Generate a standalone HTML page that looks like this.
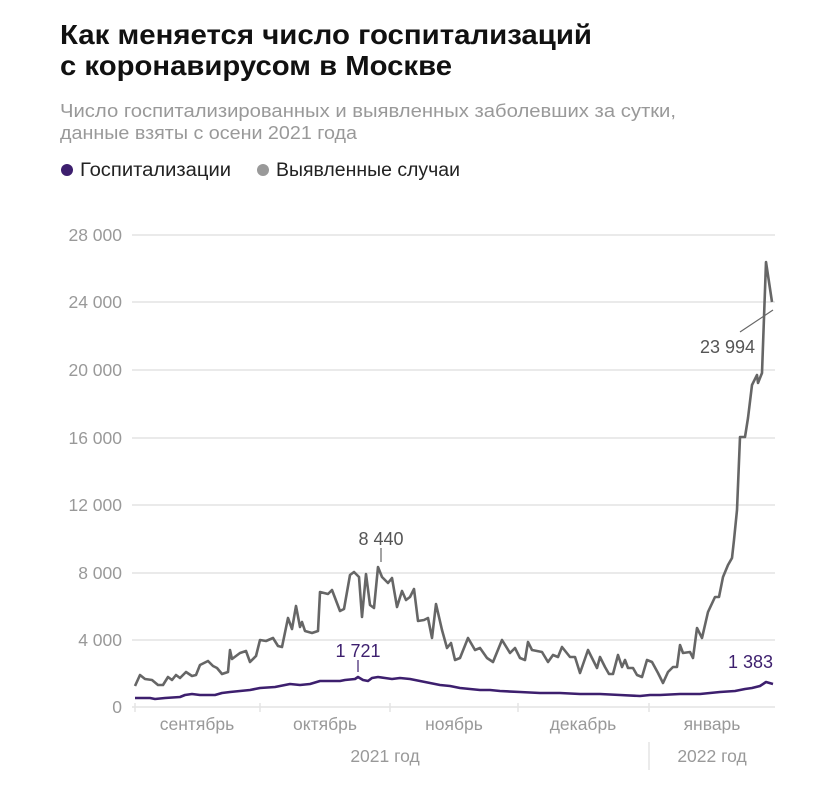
<!DOCTYPE html><html><head><meta charset="utf-8"><style>
body{margin:0;background:#fff;width:828px;height:780px;overflow:hidden;font-family:"Liberation Sans",sans-serif}
</style></head><body>
<svg width="828" height="780" xmlns="http://www.w3.org/2000/svg" font-family="Liberation Sans, sans-serif">
<text x="60" y="44" font-size="28" font-weight="bold" fill="#111" textLength="532" lengthAdjust="spacingAndGlyphs">Как меняется число госпитализаций</text>
<text x="60" y="75" font-size="28" font-weight="bold" fill="#111" textLength="392" lengthAdjust="spacingAndGlyphs">с коронавирусом в Москве</text>
<text x="60" y="117" font-size="18" fill="#999" textLength="616" lengthAdjust="spacingAndGlyphs">Число госпитализированных и выявленных заболевших за сутки,</text>
<text x="60" y="139" font-size="18" fill="#999" textLength="297" lengthAdjust="spacingAndGlyphs">данные взяты с осени 2021 года</text>
<circle cx="67" cy="170" r="6" fill="#3d1f6e"/><text x="80" y="176" font-size="19" fill="#222" textLength="151" lengthAdjust="spacingAndGlyphs">Госпитализации</text>
<circle cx="263" cy="170" r="6" fill="#999"/><text x="276" y="176" font-size="19" fill="#222" textLength="184" lengthAdjust="spacingAndGlyphs">Выявленные случаи</text>
<g stroke="#e4e4e4" stroke-width="1.5">
<line x1="132" x2="775" y1="235" y2="235"/><line x1="132" x2="775" y1="302" y2="302"/><line x1="132" x2="775" y1="370" y2="370"/><line x1="132" x2="775" y1="438" y2="438"/><line x1="132" x2="775" y1="505" y2="505"/><line x1="132" x2="775" y1="573" y2="573"/><line x1="132" x2="775" y1="640" y2="640"/><line x1="132" x2="775" y1="707" y2="707"/>
<line x1="135" x2="135" y1="703" y2="712"/><line x1="260" x2="260" y1="703" y2="712"/><line x1="390" x2="390" y1="703" y2="712"/><line x1="518" x2="518" y1="703" y2="712"/><line x1="649" x2="649" y1="703" y2="712"/><line x1="649" x2="649" y1="742" y2="770"/>
</g>
<g font-size="17.5" fill="#999" text-anchor="end">
<text x="122" y="241">28 000</text><text x="122" y="308">24 000</text><text x="122" y="376">20 000</text><text x="122" y="444">16 000</text><text x="122" y="511">12 000</text><text x="122" y="579">8 000</text><text x="122" y="646">4 000</text><text x="122" y="713">0</text>
</g>
<g font-size="17.5" fill="#999" text-anchor="middle">
<text x="197" y="730">сентябрь</text><text x="325" y="730">октябрь</text><text x="454" y="730">ноябрь</text><text x="583" y="730">декабрь</text><text x="712" y="730">январь</text>
<text x="385" y="762">2021 год</text><text x="712" y="762">2022 год</text>
</g>
<polyline fill="none" stroke="#666" stroke-width="2.6" stroke-linejoin="round" points="135,686 140,675 145,679 152,680 158,685 163,685 168,677 172,680 176,675 180,678 186,672 192,676 196,675 200,665 208,661 213,666 217,668 222,674 228,672 230,650 232,659 240,653 246,651 250,662 256,656 260,640 266,641 273,638 278,646 282,647 288,618 292,629 296,606 300,627 302,622 305,631 312,633 318,631 320,592 328,594 332,590 340,611 344,609 350,575 354,572 359,577 362,617 366,574 370,605 374,608 378,567 382,577 388,583 392,578 397,607 402,591 406,600 410,597 414,589 418,621 424,620 428,618 432,638 436,604 442,630 447,648 451,643 455,660 460,658 468,638 475,650 480,648 487,658 493,662 502,640 510,653 515,648 520,658 525,660 528,642 532,650 542,652 548,662 553,655 558,657 562,647 570,657 575,657 580,673 588,650 597,668 600,657 605,667 609,674 613,674 618,655 622,667 625,660 628,668 633,668 637,675 642,677 647,660 652,662 658,673 663,683 668,672 673,667 677,667 680,645 683,653 690,652 693,658 697,628 702,638 708,612 715,597 719,597 723,577 728,565 732,558 734,540 737,510 740,437 745,437 748,418 752,385 757,375 758,383 762,373 766,262 772,302"/>
<polyline fill="none" stroke="#3d1f6e" stroke-width="2.6" stroke-linejoin="round" points="135,698 150,698 155,699 165,698 180,697 185,695 192,694 200,695 215,695 222,693 230,692 240,691 250,690 260,688 275,687 290,684 300,685 310,684 320,681 340,681 345,680 355,679 358,677 363,680 368,681 372,678 378,677 385,678 392,679 400,678 410,679 420,681 430,683 440,685 450,686 460,688 470,689 480,690 490,690 500,691 520,692 540,693 560,693 580,694 600,694 620,695 640,696 650,695 660,695 680,694 700,694 720,692 735,691 745,689 752,688 760,686 766,682 773,684"/>
<line x1="381" x2="381" y1="548" y2="562" stroke="#666" stroke-width="1.2"/>
<line x1="358" x2="358" y1="660" y2="672" stroke="#3d1f6e" stroke-width="1.2"/>
<line x1="740" x2="773" y1="332" y2="310" stroke="#666" stroke-width="1.2"/>
<text x="381" y="545" font-size="18" fill="#555" text-anchor="middle">8 440</text>
<text x="358" y="657" font-size="18" fill="#3d1f6e" text-anchor="middle">1 721</text>
<text x="773" y="668" font-size="18" fill="#3d1f6e" text-anchor="end">1 383</text>
<text x="755" y="353" font-size="18" fill="#555" text-anchor="end">23 994</text>
</svg>
</body></html>
